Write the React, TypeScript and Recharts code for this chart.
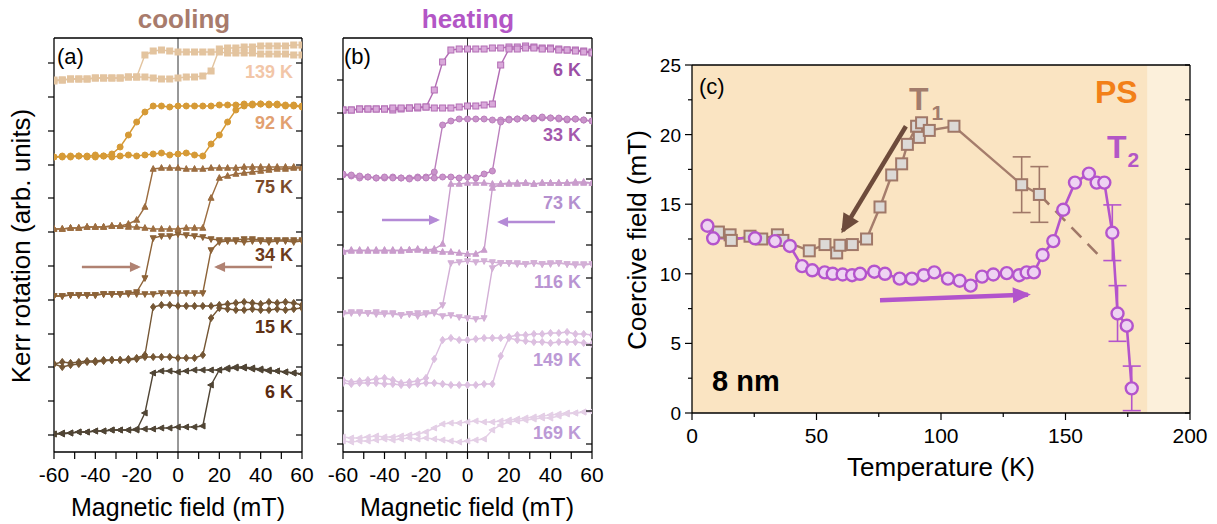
import React from 'react'
import { LineChart, Line, XAxis, YAxis, ReferenceLine, ReferenceArea, ErrorBar } from 'recharts'

const FONT = '"Liberation Sans", Arial, Helvetica, sans-serif'

// ---------- panels (a) and (b): hysteresis loops ----------
// field grid shared by every branch (mT)
const FIELD = [-60, -56, -52, -48, -44, -40, -36, -32, -28, -24, -20, -16, -12, -8, -4, 0, 4, 8, 12, 16, 20, 24, 28, 32, 36, 40, 44, 48, 52, 56, 60]
const FIELD_TICKS = [-60, -50, -40, -30, -20, -10, 0, 10, 20, 30, 40, 50, 60]

// (a) cooling, Kerr signal (arb. units, loops stacked)
const A_TEMPS = ['139 K', '92 K', '75 K', '34 K', '15 K', '6 K']
const A139_DOWN = [372, 372, 373, 373, 373, 374, 374, 374, 374, 375, 375, 397, 401, 402, 401, 400, 400, 400, 400, 400, 400, 399, 399, 399, 399, 398, 398, 398, 398, 397, 397]
const A139_UP = [371, 372, 373, 373, 373, 374, 374, 374, 374, 375, 375, 375, 374, 373, 373, 374, 375, 375, 376, 381, 403, 404, 404, 405, 405, 406, 406, 406, 406, 407, 407]
const A92_DOWN = [295, 295, 296, 296, 295, 295, 296, 298, 305, 317, 330, 340, 346, 346, 345, 346, 346, 346, 346, 346, 347, 347, 347, 348, 348, 348, 347, 347, 346, 346, 345]
const A92_UP = [295, 296, 295, 296, 296, 297, 296, 295, 296, 297, 296, 297, 298, 299, 297, 298, 299, 297, 296, 308, 317, 330, 342, 346, 347, 348, 348, 348, 347, 347, 346]
const A75_DOWN = [223, 223, 224, 224, 225, 225, 225, 226, 226, 228, 232, 245, 283, 284, 284, 284, 283, 283, 283, 284, 284, 284, 284, 285, 285, 285, 285, 285, 285, 285, 285]
const A75_UP = [223, 223, 224, 224, 225, 225, 225, 226, 226, 225, 225, 224, 223, 223, 223, 223, 224, 224, 224, 254, 274, 276, 278, 279, 280, 281, 282, 283, 283, 284, 284]
const A34_DOWN = [156, 156, 157, 157, 157, 157, 158, 158, 158, 159, 160, 174, 214, 216, 216, 218, 217, 216, 215, 213, 212, 212, 212, 213, 213, 212, 212, 212, 212, 212, 212]
const A34_UP = [156, 156, 157, 157, 157, 157, 158, 158, 158, 158, 158, 158, 158, 159, 159, 159, 159, 159, 159, 202, 210, 211, 211, 210, 211, 211, 210, 211, 211, 210, 211]
const A15_DOWN = [88, 90, 89, 90, 91, 91, 92, 92, 92, 93, 94, 97, 145, 147, 147, 146, 146, 146, 146, 146, 147, 148, 149, 150, 149, 148, 150, 149, 150, 149, 147]
const A15_UP = [88, 85, 87, 88, 90, 90, 91, 92, 92, 92, 93, 95, 95, 95, 95, 94, 94, 94, 97, 134, 144, 143, 142, 142, 143, 142, 142, 143, 142, 143, 144]
const A6_DOWN = [18, 18, 19, 20, 20, 21, 21, 22, 22, 22, 22, 39, 79, 81, 81, 80, 81, 82, 82, 82, 82, 83, 84, 84, 83, 82, 81, 81, 80, 79, 78]
const A6_UP = [18, 19, 19, 20, 20, 21, 21, 22, 22, 22, 23, 23, 23, 24, 24, 25, 25, 25, 26, 67, 82, 84, 85, 85, 84, 83, 82, 81, 80, 79, 78]
const A_TICKS = [17, 51, 85, 118, 152, 186, 220, 254, 287, 321, 355, 389]

// (b) heating
const B_TEMPS = ['6 K', '33 K', '73 K', '116 K', '149 K', '169 K']
const B6_DOWN = [342, 342, 343, 343, 343, 343, 342, 343, 344, 344, 345, 362, 390, 402, 403, 403, 403, 403, 404, 404, 405, 405, 406, 405, 404, 404, 403, 402, 402, 401, 400]
const B6_UP = [342, 342, 343, 343, 343, 343, 344, 344, 344, 345, 345, 344, 344, 344, 345, 346, 346, 347, 348, 387, 403, 403, 404, 404, 403, 403, 402, 402, 401, 400, 399]
const B33_DOWN = [277, 276, 274, 275, 274, 274, 275, 274, 274, 275, 275, 280, 327, 331, 333, 333, 333, 333, 332, 332, 333, 333, 334, 333, 334, 334, 333, 332, 333, 332, 331]
const B33_UP = [278, 277, 276, 275, 274, 275, 274, 274, 273, 274, 274, 274, 275, 275, 274, 275, 274, 278, 281, 330, 332, 333, 334, 334, 335, 334, 334, 333, 333, 332, 331]
const B73_DOWN = [201, 202, 201, 202, 201, 202, 201, 202, 202, 203, 202, 203, 208, 268, 268, 269, 269, 269, 268, 268, 269, 269, 269, 268, 269, 269, 269, 269, 270, 270, 269]
const B73_UP = [200, 201, 202, 201, 202, 201, 202, 201, 202, 202, 201, 201, 200, 200, 199, 198, 198, 202, 264, 268, 268, 268, 269, 268, 269, 269, 269, 269, 269, 269, 269]
const B116_DOWN = [139, 140, 140, 139, 140, 139, 138, 137, 138, 139, 139, 140, 147, 189, 190, 191, 190, 191, 190, 189, 189, 189, 188, 189, 188, 189, 189, 188, 187, 188, 188]
const B116_UP = [138, 139, 139, 139, 138, 138, 139, 137, 138, 136, 138, 139, 136, 137, 135, 134, 133, 134, 184, 189, 189, 188, 188, 189, 188, 188, 189, 188, 188, 187, 188]
const B149_DOWN = [72, 70, 71, 72, 73, 74, 72, 69, 70, 71, 74, 93, 112, 114, 112, 112, 113, 114, 114, 114, 115, 117, 117, 118, 118, 119, 119, 120, 118, 118, 117]
const B149_UP = [69, 68, 69, 69, 69, 68, 68, 67, 67, 68, 69, 69, 68, 67, 67, 67, 67, 68, 68, 96, 114, 112, 111, 110, 110, 109, 110, 110, 110, 109, 108]
const B169_DOWN = [15, 14, 14, 15, 16, 15, 15, 16, 17, 18, 20, 24, 28, 29, 29, 30, 31, 30, 30, 31, 32, 33, 34, 35, 36, 37, 38, 39, 39, 40, 40]
const B169_UP = [11, 10, 11, 11, 12, 13, 12, 13, 14, 13, 14, 13, 12, 11, 10, 11, 12, 13, 22, 27, 30, 31, 32, 33, 34, 34, 36, 38, 39, 40, 41]
const B_TICKS = [8, 41, 74, 107, 140, 174, 207, 240, 273, 306, 339, 372]

// sweep-direction arrows (field, signal)
const A_ARROWS = [
  [{ f: -46.5, v: 185 }, { f: -19.4, v: 185 }],
  [{ f: 45.5, v: 185 }, { f: 18.9, v: 185 }],
]
const B_ARROWS = [
  [{ f: -41.2, v: 232 }, { f: -14.7, v: 232 }],
  [{ f: 42.2, v: 230 }, { f: 15.7, v: 230 }],
]

// ---------- panel (c): coercive field vs temperature ----------
const COOL_T = [10.6, 15.3, 15.8, 23.3, 28.0, 34.3, 36.5, 47.1, 53.4, 58.1, 59.4, 64.4, 70.1, 75.5, 80.2, 84.2, 86.5, 90.2, 92.2, 91.3, 95.3, 105.2, 132.4, 139.5]
const COOL_H = [13.0, 12.8, 12.4, 12.7, 12.5, 12.8, 12.4, 11.65, 12.1, 11.5, 12.05, 12.1, 12.5, 14.8, 17.1, 17.9, 19.3, 20.6, 20.85, 19.8, 20.3, 20.6, 16.4, 15.7]
const COOL_ERR = [0, 0, 0, 0, 0, 0, 0, 0, 0, 0, 0, 0, 0, 0, 0, 0, 0, 0, 0, 0, 0, 0, 2.0, 2.0]
const HEAT_T = [6.2, 8.5, 25.3, 33.3, 39.3, 44.2, 48.3, 53.3, 56.5, 60.5, 64.3, 67.5, 73.2, 77.5, 83.4, 88.3, 93.1, 97.3, 102.8, 107.5, 111.9, 116.5, 121.0, 126.4, 131.4, 134.4, 137.3, 140.8, 145.1, 149.1, 153.8, 159.4, 162.5, 165.6, 168.8, 170.9, 174.6, 176.6]
const HEAT_H = [13.45, 12.55, 12.55, 12.35, 12.0, 10.55, 10.25, 10.1, 10.0, 9.95, 9.9, 10.0, 10.15, 10.0, 9.65, 9.65, 9.9, 10.1, 9.65, 9.5, 9.15, 9.8, 9.95, 10.05, 9.9, 10.1, 10.1, 11.35, 12.35, 14.6, 16.55, 17.2, 16.55, 16.55, 12.95, 7.15, 6.27, 1.77]
const HEAT_ERR = [0, 0, 0, 0, 0, 0, 0, 0, 0, 0, 0, 0, 0, 0, 0, 0, 0, 0, 0, 0, 0, 0, 0, 0, 0, 0, 0, 0, 0, 0, 0, 0, 0, 0, 2.0, 2.0, 0, 1.6]
const DASH_T = [139.5, 163.0]
const DASH_H = [15.7, 11.4]
const PS_BANDS = [[0, 183], [183, 200]]
const T_TICKS = [0, 25, 50, 75, 100, 125, 150, 175, 200]
const H_TICKS = [0, 2.5, 5, 7.5, 10, 12.5, 15, 17.5, 20, 22.5, 25]
const C_COOL_ARROW = [{ t: 85.9, h: 20.6 }, { t: 60.6, h: 13.1 }]
const C_HEAT_ARROW = [{ t: 75.5, h: 8.1 }, { t: 134.9, h: 8.5 }]

// ---------- styles ----------
type Shape = 'square' | 'circle' | 'up' | 'down' | 'diamond' | 'left'
const SHAPES: Shape[] = ['square', 'circle', 'up', 'down', 'diamond', 'left']
const A_COLORS = ['#e3c49f', '#d69a36', '#9c6d40', '#8d6338', '#745634', '#504535']
const A_FILLS = A_COLORS
const A_LABEL_COLORS = ['#f2c6a8', '#e2a070', '#7c4a2a', '#6c3b1c', '#5f3216', '#5a2a10']
const A_LABEL_Y = [78, 129, 193, 261, 333, 398]
const B_COLORS = ['#b26cb4', '#bb7fbd', '#c99ccc', '#d3afd6', '#dcbfe0', '#e4cfe6']
const B_FILLS = ['#d9a9da', '#c993ca', '#c99ccc', '#d3afd6', '#dcbfe0', '#e4cfe6']
const B_LABEL_COLORS = ['#9c4fa6', '#a459ad', '#b490cf', '#b994d2', '#bc9ad6', '#bc9ad6']
const B_LABEL_Y = [76, 141, 209, 288, 366, 439]
const AXIS_LINE = { stroke: '#000', strokeWidth: 1.3 }

const rows = (vals: number[]) => FIELD.map((f, i) => ({ f, v: vals[i] }))
const isMult = (v: number, s: number) => Math.abs(v / s - Math.round(v / s)) < 1e-6

function Marker({ cx, cy, shape, size, fill, stroke, sw }: any) {
  if (cx == null || cy == null || isNaN(cx) || isNaN(cy)) return <g />
  const s = size / 2
  const common = { fill, stroke, strokeWidth: sw }
  switch (shape as Shape) {
    case 'square':
      return <rect x={cx - s} y={cy - s} width={size} height={size} {...common} />
    case 'circle':
      return <circle cx={cx} cy={cy} r={s} {...common} />
    case 'up':
      return <polygon points={`${cx},${cy - s * 1.15} ${cx + s},${cy + s * 0.75} ${cx - s},${cy + s * 0.75}`} {...common} />
    case 'down':
      return <polygon points={`${cx},${cy + s * 1.15} ${cx + s},${cy - s * 0.75} ${cx - s},${cy - s * 0.75}`} {...common} />
    case 'diamond':
      return <polygon points={`${cx},${cy - s * 1.2} ${cx + s * 0.9},${cy} ${cx},${cy + s * 1.2} ${cx - s * 0.9},${cy}`} {...common} />
    default:
      return <polygon points={`${cx - s * 1.15},${cy} ${cx + s * 0.75},${cy - s} ${cx + s * 0.75},${cy + s}`} {...common} />
  }
}

const markerDot = (shape: Shape, size: number, fill: string, stroke: string, sw: number) => (p: any) => (
  <Marker key={`m-${p.index}`} cx={p.cx} cy={p.cy} shape={shape} size={size} fill={fill} stroke={stroke} sw={sw} />
)

// arrow head drawn at the second point, oriented along the segment
const arrowHead = (color: string, len: number, half: number, fallbackDeg: number) => (p: any) => {
  if (p.index !== 1) return <g key={`a-${p.index}`} />
  const prev = p.points && p.points[0]
  const a = prev ? Math.atan2(p.cy - prev.y, p.cx - prev.x) : (fallbackDeg * Math.PI) / 180
  const tx = p.cx + 3 * Math.cos(a)
  const ty = p.cy + 3 * Math.sin(a)
  const bx = tx - len * Math.cos(a)
  const by = ty - len * Math.sin(a)
  const nx = -Math.sin(a) * half
  const ny = Math.cos(a) * half
  return <polygon key="a-1" points={`${tx},${ty} ${bx + nx},${by + ny} ${bx - nx},${by - ny}`} fill={color} />
}

type Side = 'bottom' | 'top' | 'left' | 'right'
const axisTick = (side: Side, lenMajor: number, lenMinor: number, majorStep: number, labelStep: number | null, fontSize = 21) => (p: any) => {
  const v = Number(p.payload.value)
  const L = isMult(v, majorStep) ? lenMajor : lenMinor
  const lbl = labelStep != null && isMult(v, labelStep) ? String(v) : null
  const { x, y } = p
  const st = { stroke: '#000', strokeWidth: 1.2 }
  if (side === 'bottom')
    return (
      <g>
        <line x1={x} y1={y} x2={x} y2={y + L} {...st} />
        {lbl && (
          <text x={x} y={y + 30} textAnchor="middle" fontSize={fontSize} fill="#000">
            {lbl}
          </text>
        )}
      </g>
    )
  if (side === 'top') return <line x1={x} y1={y} x2={x} y2={y + L} {...st} />
  if (side === 'left')
    return (
      <g>
        <line x1={x - L} y1={y} x2={x} y2={y} {...st} />
        {lbl && (
          <text x={x - 11} y={y + 7} textAnchor="end" fontSize={fontSize} fill="#000">
            {lbl}
          </text>
        )}
      </g>
    )
  return <line x1={x} y1={y} x2={x - L} y2={y} {...st} />
}

function LoopPanel({ width, yWidth, right, downs, ups, colors, fills, yTicks, arrows, arrowColor }: any) {
  return (
    <LineChart width={width} height={524} margin={{ top: 37, right, bottom: 32, left: 0 }}>
      <XAxis type="number" dataKey="f" domain={[-60, 60]} allowDataOverflow ticks={FIELD_TICKS} interval={0} height={40}
        axisLine={AXIS_LINE} tickLine={false} tickSize={0} tickMargin={0} tick={axisTick('bottom', 7, 7, 10, 20)} />
      <XAxis xAxisId="top" orientation="top" type="number" domain={[-60, 60]} allowDataOverflow ticks={FIELD_TICKS} interval={0} height={1}
        axisLine={AXIS_LINE} tickLine={false} tickSize={0} tickMargin={0} tick={axisTick('top', 6, 6, 10, null)} />
      <YAxis type="number" domain={[0, 414]} allowDataOverflow ticks={yTicks} interval={0} width={yWidth}
        axisLine={AXIS_LINE} tickLine={false} tickSize={0} tickMargin={0} tick={axisTick('left', 6, 6, 1, null)} />
      <YAxis yAxisId="right" orientation="right" type="number" domain={[0, 414]} allowDataOverflow ticks={yTicks} interval={0} width={1}
        axisLine={AXIS_LINE} tickLine={false} tickSize={0} tickMargin={0} tick={axisTick('right', 6, 6, 1, null)} />
      <ReferenceLine x={0} stroke="#333" strokeWidth={1} />
      {downs.map((vals: number[], i: number) => (
        <Line key={`d${i}`} data={rows(vals)} dataKey="v" stroke={colors[i]} strokeWidth={1.4} isAnimationActive={false} activeDot={false}
          dot={markerDot(SHAPES[i], 6, fills[i], colors[i], 1)} />
      ))}
      {ups.map((vals: number[], i: number) => (
        <Line key={`u${i}`} data={rows(vals)} dataKey="v" stroke={colors[i]} strokeWidth={1.4} isAnimationActive={false} activeDot={false}
          dot={markerDot(SHAPES[i], 6, fills[i], colors[i], 1)} />
      ))}
      {arrows.map((a: any[], i: number) => (
        <Line key={`ar${i}`} data={a} dataKey="v" stroke={arrowColor} strokeWidth={2.6} isAnimationActive={false} activeDot={false}
          dot={arrowHead(arrowColor, 11, 5, i === 0 ? 0 : 180)} />
      ))}
    </LineChart>
  )
}

function CoercivePanel() {
  const coolRows = COOL_T.map((t, i) => ({ t, h: COOL_H[i], err: COOL_ERR[i] }))
  const heatRows = HEAT_T.map((t, i) => ({ t, h: HEAT_H[i], err: HEAT_ERR[i] }))
  const dashRows = DASH_T.map((t, i) => ({ t, h: DASH_H[i] }))
  return (
    <LineChart width={607} height={524} margin={{ top: 64, right: 26, bottom: 71, left: 0 }}>
      <XAxis type="number" dataKey="t" domain={[0, 200]} allowDataOverflow ticks={T_TICKS} interval={0} height={40}
        axisLine={AXIS_LINE} tickLine={false} tickSize={0} tickMargin={0} tick={axisTick('bottom', 7, 4, 50, 50)} />
      <XAxis xAxisId="top" orientation="top" type="number" domain={[0, 200]} allowDataOverflow ticks={T_TICKS} interval={0} height={1}
        axisLine={AXIS_LINE} tickLine={false} tickSize={0} tickMargin={0} tick={axisTick('top', 5, 5, 25, null)} />
      <YAxis type="number" domain={[0, 25]} allowDataOverflow ticks={H_TICKS} interval={0} width={82}
        axisLine={AXIS_LINE} tickLine={false} tickSize={0} tickMargin={0} tick={axisTick('left', 7, 4, 5, 5, 19)} />
      <YAxis yAxisId="right" orientation="right" type="number" domain={[0, 25]} allowDataOverflow ticks={H_TICKS} interval={0} width={1}
        axisLine={AXIS_LINE} tickLine={false} tickSize={0} tickMargin={0} tick={axisTick('right', 5, 5, 2.5, null)} />
      <ReferenceArea x1={PS_BANDS[0][0]} x2={PS_BANDS[0][1]} fill="#fae4c2" fillOpacity={1} stroke="none" />
      <ReferenceArea x1={PS_BANDS[1][0]} x2={PS_BANDS[1][1]} fill="#fcf0db" fillOpacity={1} stroke="none" />
      <Line data={coolRows.filter((r) => r.err > 0)} dataKey="h" stroke="none" dot={false} activeDot={false} isAnimationActive={false}>
        <ErrorBar dataKey="err" width={9} stroke="#a07868" strokeWidth={1.6} direction="y" />
      </Line>
      <Line data={heatRows.filter((r) => r.err > 0)} dataKey="h" stroke="none" dot={false} activeDot={false} isAnimationActive={false}>
        <ErrorBar dataKey="err" width={9} stroke="#b454cc" strokeWidth={1.6} direction="y" />
      </Line>
      <Line data={dashRows} dataKey="h" stroke="#a07868" strokeWidth={2.6} strokeDasharray="14 9" dot={false} activeDot={false} isAnimationActive={false} />
      <Line data={coolRows} dataKey="h" stroke="#a57d6c" strokeWidth={2.4} activeDot={false} isAnimationActive={false}
        dot={markerDot('square', 11, '#dcd9d6', '#a07868', 2)} />
      <Line data={heatRows} dataKey="h" stroke="#b454cc" strokeWidth={2.6} activeDot={false} isAnimationActive={false}
        dot={markerDot('circle', 12, '#eed3f2', '#b454cc', 2.4)} />
      <Line data={C_COOL_ARROW} dataKey="h" stroke="#6d4b3b" strokeWidth={4.5} activeDot={false} isAnimationActive={false}
        dot={arrowHead('#6d4b3b', 19, 9, 121)} />
      <Line data={C_HEAT_ARROW} dataKey="h" stroke="#b254cc" strokeWidth={4.5} activeDot={false} isAnimationActive={false}
        dot={arrowHead('#b254cc', 18, 8, -2)} />
    </LineChart>
  )
}

export default function App() {
  return (
    <div style={{ position: 'absolute', left: 0, top: 0, width: 1217, height: 524, background: '#fff', fontFamily: FONT, overflow: 'hidden' }}>
      <div style={{ position: 'absolute', left: 0, top: 0 }}>
        <LoopPanel width={320} yWidth={54} right={17} yTicks={A_TICKS} colors={A_COLORS} fills={A_FILLS}
          downs={[A139_DOWN, A92_DOWN, A75_DOWN, A34_DOWN, A15_DOWN, A6_DOWN]}
          ups={[A139_UP, A92_UP, A75_UP, A34_UP, A15_UP, A6_UP]} arrows={A_ARROWS} arrowColor="#b08272" />
      </div>
      <div style={{ position: 'absolute', left: 320, top: 0 }}>
        <LoopPanel width={290} yWidth={23} right={17} yTicks={B_TICKS} colors={B_COLORS} fills={B_FILLS}
          downs={[B6_DOWN, B33_DOWN, B73_DOWN, B116_DOWN, B149_DOWN, B169_DOWN]}
          ups={[B6_UP, B33_UP, B73_UP, B116_UP, B149_UP, B169_UP]} arrows={B_ARROWS} arrowColor="#b48ad6" />
      </div>
      <div style={{ position: 'absolute', left: 610, top: 0 }}>
        <CoercivePanel />
      </div>
      <svg width={1217} height={524} style={{ position: 'absolute', left: 0, top: 0, pointerEvents: 'none' }}>
        <text x={184} y={28} textAnchor="middle" fontSize={26} fontWeight="bold" fill="#a87b6c">cooling</text>
        <text x={468} y={28} textAnchor="middle" fontSize={26} fontWeight="bold" fill="#b356c6">heating</text>
        <text x={57} y={64} fontSize={22} fill="#000">(a)</text>
        <text x={344} y={64} fontSize={22} fill="#000">(b)</text>
        <text x={699} y={94} fontSize={22} fill="#000">(c)</text>
        {A_TEMPS.map((t, i) => (
          <text key={t} x={293} y={A_LABEL_Y[i]} textAnchor="end" fontSize={18} fontWeight="bold" fill={A_LABEL_COLORS[i]}>{t}</text>
        ))}
        {B_TEMPS.map((t, i) => (
          <text key={t} x={581} y={B_LABEL_Y[i]} textAnchor="end" fontSize={18} fontWeight="bold" fill={B_LABEL_COLORS[i]}>{t}</text>
        ))}
        <text transform="translate(30,246) rotate(-90)" textAnchor="middle" fontSize={26} fill="#000">Kerr rotation (arb. units)</text>
        <text x={178} y={516} textAnchor="middle" fontSize={25} fill="#000">Magnetic field (mT)</text>
        <text x={467} y={516} textAnchor="middle" fontSize={25} fill="#000">Magnetic field (mT)</text>
        <text transform="translate(646,240) rotate(-90)" textAnchor="middle" fontSize={26} fill="#000">Coercive field (mT)</text>
        <text x={941} y={476} textAnchor="middle" fontSize={26} fill="#000">Temperature (K)</text>
        <text x={909} y={110} fontSize={32} fontWeight="bold" fill="#a27c6c">T<tspan fontSize={21} dx={3} dy={10}>1</tspan></text>
        <text x={1107} y={158} fontSize={32} fontWeight="bold" fill="#b356c6">T<tspan fontSize={21} dx={1} dy={9}>2</tspan></text>
        <text x={1095} y={103} fontSize={32} fontWeight="bold" fill="#f28018">PS</text>
        <text x={712} y={391} fontSize={29} fontWeight="bold" fill="#000">8 nm</text>
      </svg>
    </div>
  )
}
